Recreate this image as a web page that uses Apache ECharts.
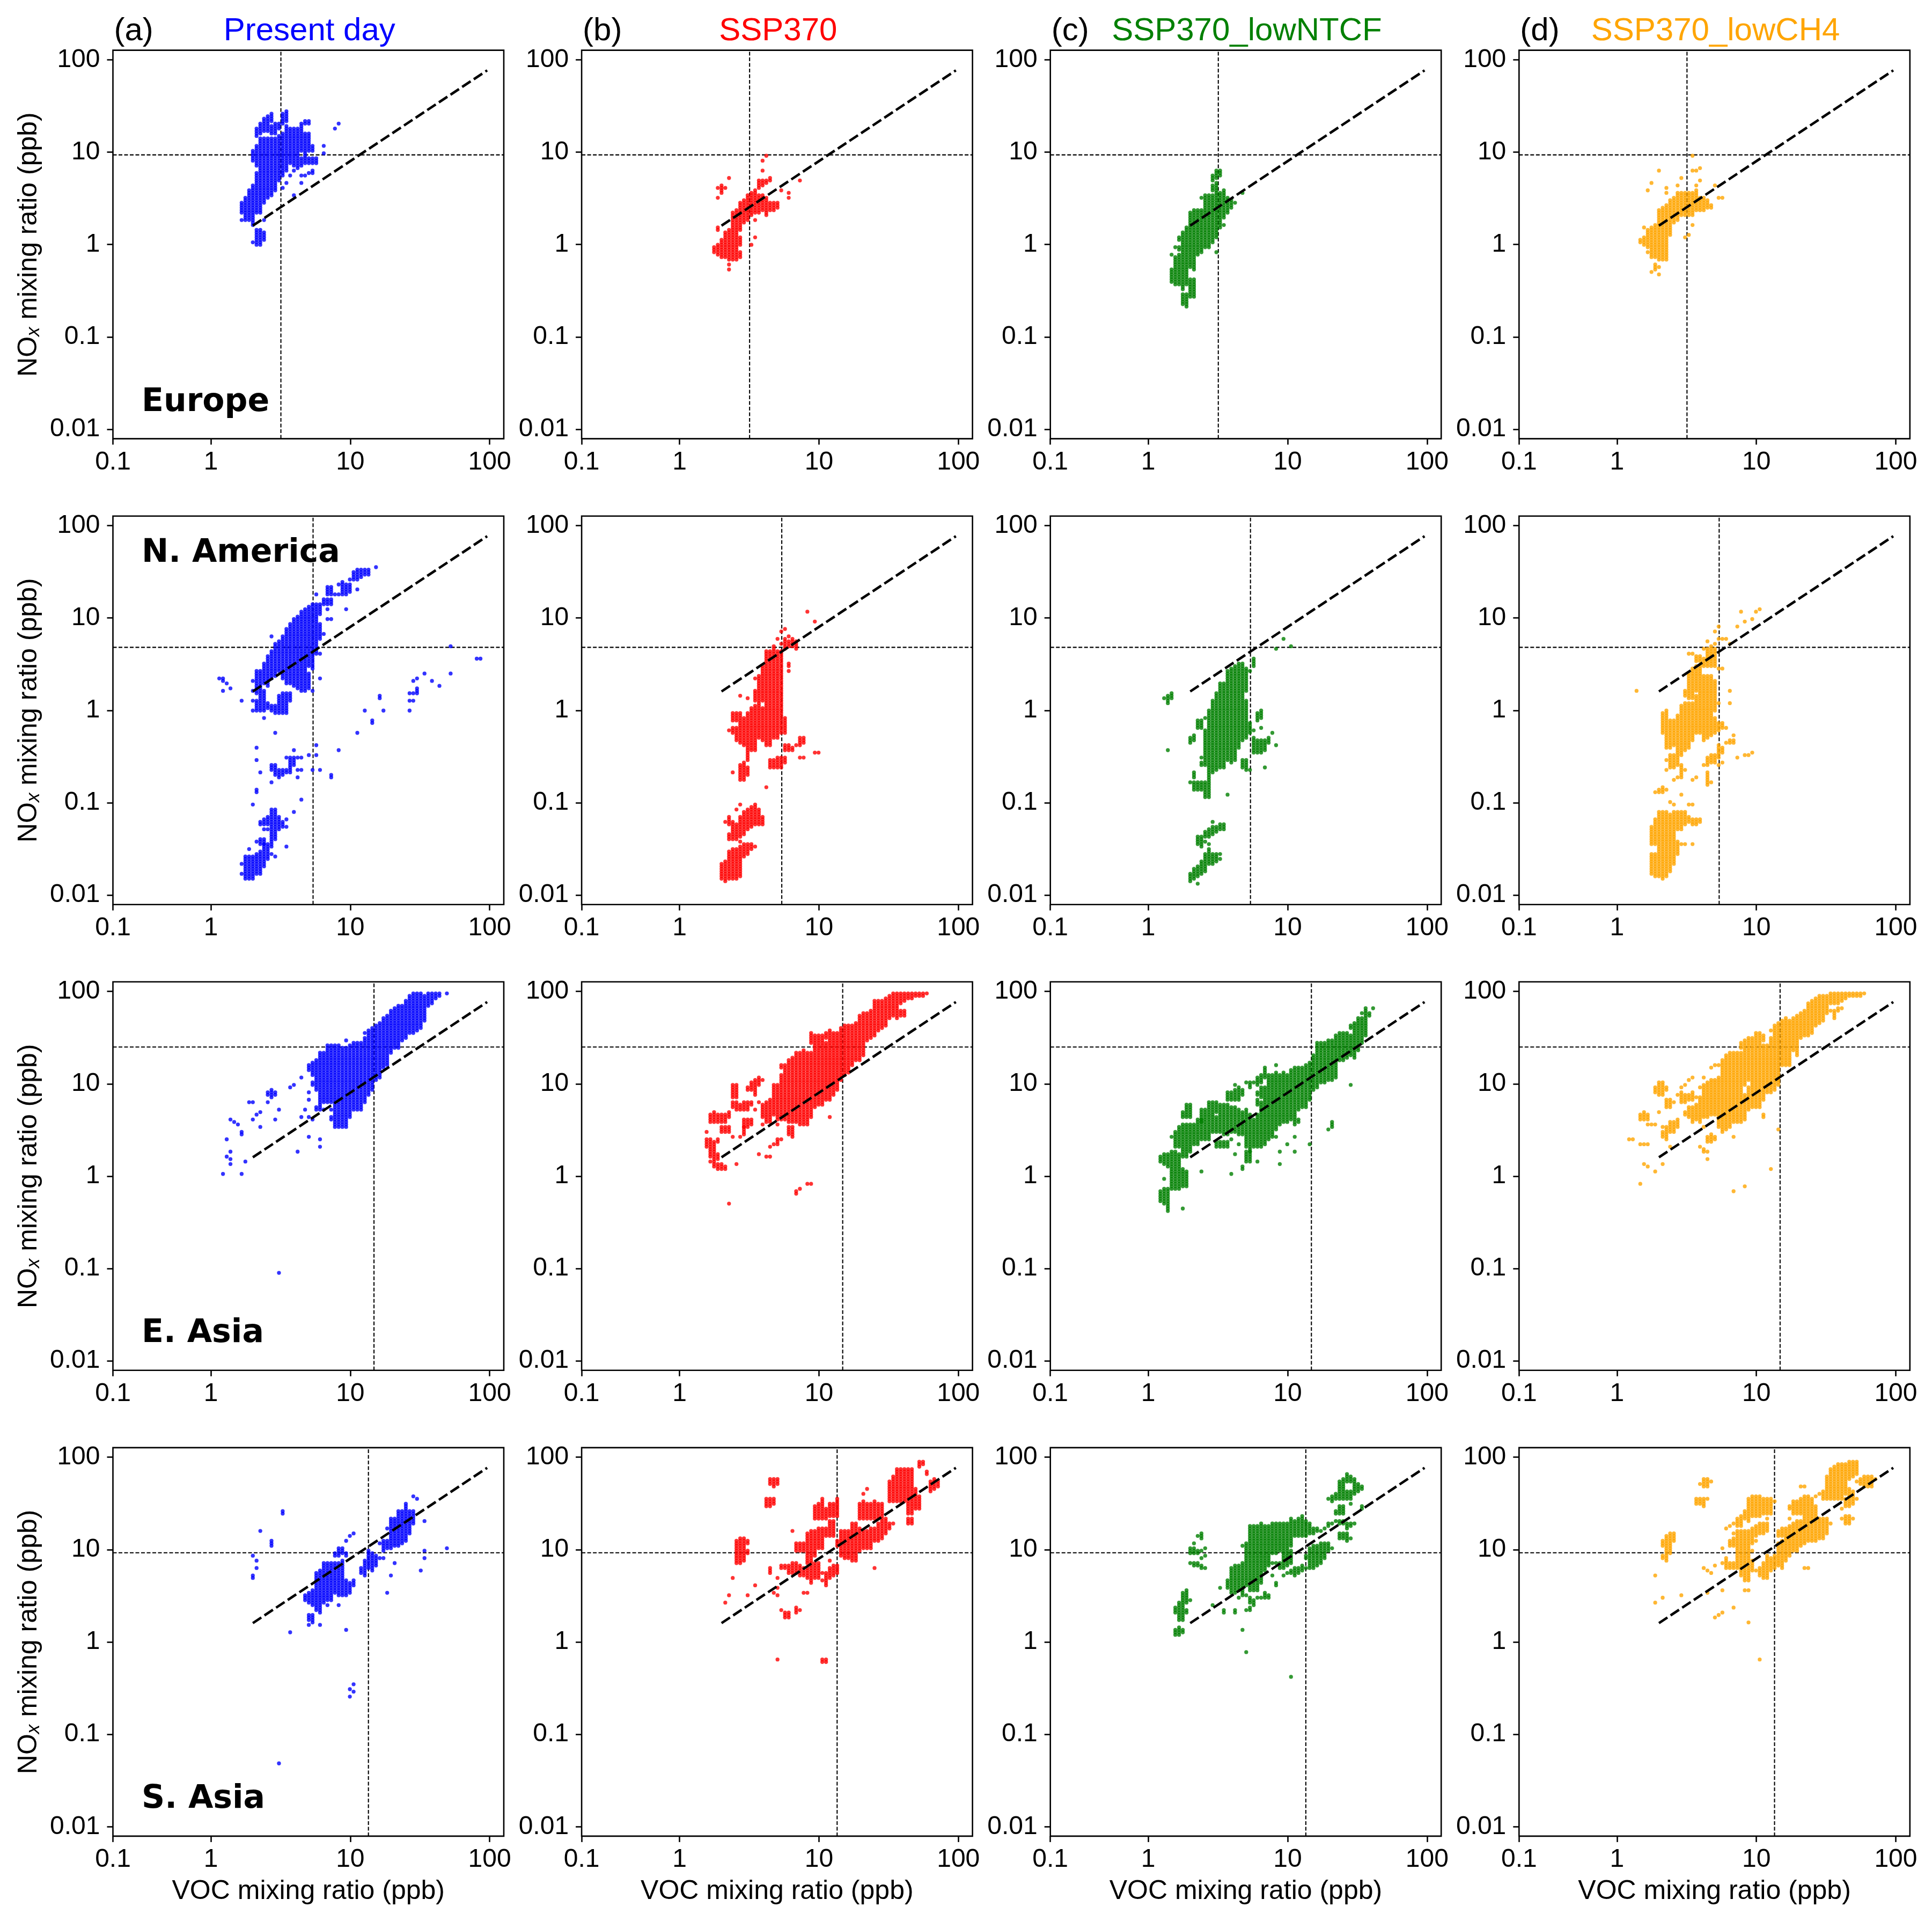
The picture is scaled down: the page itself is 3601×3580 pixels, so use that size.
<!DOCTYPE html>
<html><head><meta charset="utf-8">
<style>html,body{margin:0;padding:0;background:#fff}#c{width:3601px;height:3580px}</style>
<script src="https://cdn.jsdelivr.net/npm/echarts@6/dist/echarts.min.js"></script></head>
<body><div id="c"></div>
<script>
// Chart text
const experiments = ['Present day','SSP370','SSP370_lowNTCF','SSP370_lowCH4'];
const panelTags = ['(a)','(b)','(c)','(d)'];
const regions = ['Europe','N. America','E. Asia','S. Asia'];
const seriesColors = ['#0000ff','#ff0000','#008000','#ffa500'];
const xTicks = [0.1984,1,10,100];
const xTickLabels = ['0.1','1','10','100'];
const yTicks = [0.01,0.1,1,10,100];
const yTickLabels = ['0.01','0.1','1','10','100'];
// Threshold lines per region [VOC, NOx], ppb
const thresholds = [[3.18,9.34],[5.41,4.81],[14.8,25],[13.5,9.25]];
// Reference ratio line end points [VOC, NOx]
const ratioLine = [[2,1.6],[96,76.8]];
// The points sit on a log-spaced cell lattice. Occupied cells:
// [VOC cell, NOx cell or [first,last] NOx cell, ...]
const cellDecades = 0.02677, vocCellShift = 0.25, noxCellShift = -0.1;

const europePresent = [[8,[13,17],10],[9,[10,19]],[10,[10,22]],[11,[8,24],1,[34,38]],[12,[0,6],[13,29],[32,40],[44,47]],[13,[0,6],[13,43],[45,49]],[14,[2,5],10,[17,43],[46,51]],[15,[19,43],[46,52]],[16,[20,43],[45,48],[50,53]],[17,[22,43],[45,49]],[18,[26,44],[47,49]],[19,23,[28,45],[49,53]],[20,25,[30,48],[50,54]],[21,28,[33,47]],[22,20,30,[32,47]],[23,[31,47]],[24,25,28,[32,35],[38,49]],[25,28,[33,45],[49,50]],[26,29,[33,35],[38,45],[49,50]],[27,[29,30],[33,35],[38,40]],[28,[33,35]],[30,37,40],[33,47],[34,49]];
const europeSsp370 = [[9,[-3,-1]],[10,[-4,0],[6,7],19,23],[11,[-5,2],[21,24]],[12,[-5,5],23],[13,-10,-8,[-6,6],27],[14,[-6,13]],[15,[-6,14]],[16,[-5,-3],[0,3],[6,17]],[17,[9,18]],[18,[10,20]],[19,0,[12,21]],[20,3,10,[13,22]],[21,[13,20],[23,26]],[22,[14,20],[24,26],30,34],[23,[12,19],[25,26],36],[24,[14,17],[26,27]],[25,[14,17]],[26,[15,17]],[27,22],[29,19,21],[32,26]];
const europeLowNtcf = [[6,[-15,-10],-4],[7,[-16,-5],-1],[8,[-16,-4],[-2,-1],[2,3]],[9,[-24,-20],[-18,5]],[10,-25,[-24,-20],[-16,7]],[11,[-21,-14],[-9,13]],[12,[-21,-14],[-10,14]],[13,[-4,14]],[14,[-3,14],19],[15,[-1,20]],[16,[-1,20]],[17,[1,20],[22,24],[26,28]],[18,-3,[3,21],[22,25],[27,30]],[19,[7,21],[28,30]],[20,8,[11,17],[18,22]],[21,[13,19]],[22,[15,18]],[23,17],[25,21]];
const europeLowCh4 = [[6,[1,2]],[7,[0,3],7],[8,-3,[-1,6],22],[9,-11,[-5,7],25],[10,[-10,-8],[-5,8]],[11,-12,-9,[-6,14],30],[12,[-6,15]],[13,[-6,16],21,23],[14,[4,18]],[15,[9,19]],[16,[10,21],24],[17,[12,21],27],[18,3,[12,21]],[19,4,[12,21]],[20,8,[12,21],30,36],[21,[14,22],24,30],[22,[14,19],26,31],[23,[14,19]],[24,[15,18]],[25,[15,16]],[26,24],[27,19],[28,19]];

const namericaPresent = [[2,13],[3,8,[12,13]],[4,11],[5,9],[8,-66,-62,4],[9,[-68,-59]],[10,[-68,-59],-56],[11,[-68,-59],-38,0,4,8,12],[12,[-66,-58],-53,-33,-32,-20,-15,[0,4],[7,16]],[13,[-66,-57],[-54,-52],[-46,-45],-25,[0,16]],[14,[-63,-54],[-54,-52],-48,[-46,-44],-3,[0,8],[11,19]],[15,[-60,-54],-48,[-46,-43],[1,3],[10,22]],[16,-58,[-55,-53],[-52,-40],-29,[-24,-22],[0,2],[13,24],30],[17,-59,[-52,-40],[-26,-22],-9,[-1,2],[14,27]],[18,[-48,-43],[-27,-24],[-1,6],[16,28]],[19,[-47,-45],[-26,-24],[-1,7],[13,30]],[20,-55,-47,-44,[-25,-24],-19,[-1,7],[11,33]],[21,[-25,-24],[-23,-19],[4,7],[11,35]],[22,-41,[-22,-19],-16,[10,37]],[23,-27,-24,-19,[9,38]],[24,-36,-24,-19,[8,40]],[25,[8,41]],[26,-18,[9,15],[18,42]],[27,-24,8,[17,43]],[28,-18,-14,[23,38],[39,43],47],[29,-24,13,23,[29,35],[39,43]],[30,31,[43,45]],[31,37,41,[43,45],[47,50]],[32,[-27,-26],37,[43,45],[47,50]],[33,47],[34,-16,47,51],[35,[47,52]],[36,41,[47,51]],[37,[48,51],53],[38,[53,56]],[39,-9,49,[53,57]],[40,[54,57]],[41,0,[55,57]],[42,[55,57]],[43,-5,-4],[44,58],[45,5,6],[46,0],[53,0,4,7],[54,4,7,12],[55,[7,9],13],[57,15],[59,12],[61,10],[64,15,26],[71,21],[72,21]];
const namericaSsp370 = [[11,[-68,-62]],[12,[-69,-61],-45],[13,[-68,-57],[-52,-50],[-46,-43],-8],[14,[-68,-56],[-52,-48],[-47,-45],-25,[-9,-7],[-4,-1]],[15,[-68,-56],[-52,-46],-40,[-12,-7],[-4,-1]],[16,[-67,-55],-53,[-51,-43],-38,[-28,-22],[-13,-5],[-4,-1],6],[17,[-59,-54],[-50,-41],[-28,-21],[-14,-3]],[18,[-58,-54],[-48,-40],[-26,-23],[-20,-1],5],[19,[-56,-54],[-47,-39],[-16,1]],[20,-55,[-46,-38],[-16,2],[4,8],13],[21,[-46,-40],[-11,3],[4,14]],[22,[-46,-43],[-12,1],[4,18]],[23,-31,[-14,-12],[-11,24]],[24,[-23,-20],[-14,-12],[-11,24]],[25,[-23,-20],[-11,26]],[26,[-23,-19],[-11,24],29],[27,[-23,-19],[-9,24],27,32],[28,[-21,-19],[-16,-14],[-9,-3],[25,29],33],[29,[-16,-14],16,[18,19],[26,28],30],[30,[-16,-15],[26,29]],[31,-14,[25,28]],[32,-19,[-14,-11]],[33,-19,[-13,-11]],[34,40],[36,-17,36],[37,-17]];
const namericaLowNtcf = [[4,5],[5,-16,[3,6]],[6,[5,7]],[11,[-69,-66],-29,[-13,-11]],[12,[-68,-64],[-32,-29],[-27,-25],[-12,-10]],[13,-70,[-67,-63],[-54,-51],[-32,-29],[-7,-4]],[14,[-66,-61],[-55,-51],[-32,-29],[-22,-21],-19,[-7,-4]],[15,[-65,-58],-53,[-51,-49],[-35,-29],[-22,-8],-3],[16,[-62,-56],-54,[-51,-48],[-35,-25],[-24,0]],[17,[-62,-58],[-50,-47],-45,[-25,4]],[18,[-61,-58],[-49,-47],[-24,7]],[19,-60,-58,[-48,-46],[-23,11]],[20,[-48,-46],[-23,11]],[21,-34,[-20,16]],[22,[-21,17]],[23,[-20,18]],[24,[-15,19]],[25,[-23,-20],[-12,7],[8,19]],[26,[-24,-20],[-11,4],[8,17]],[27,-24,[-9,-5],16],[28,[-17,-11],-8,[18,21]],[29,[-17,-12],[-4,-1]],[30,[-17,-12],-7,[-3,0]],[31,-23,[-16,-12]],[32,[-13,-11]],[33,-9],[34,-14,25],[36,29],[38,26]];
const namericaLowCh4 = [[5,8],[9,[-66,-58],[-54,-47]],[10,[-67,-58],[-54,-44],-33],[11,[-67,-41],[-33,-32]],[12,[-68,-41],[-33,-31],[-9,-1]],[13,[-67,-41],-32,-24,-20,[-15,0]],[14,[-65,-42],-37,[-23,-18],[-15,-4]],[15,[-62,-41],-38,-28,[-23,-18],[-14,-4]],[16,[-58,-53],[-48,-41],-27,[-22,-2]],[17,-54,[-48,-41],-34,[-27,-22],[-18,2]],[18,-54,[-46,-41],-24,[-16,3],[6,8]],[19,[-45,-43],-38,[-15,3],[5,15],23],[20,-54,[-46,-44],-38,-28,[-12,3],[5,17],23],[21,[-46,-44],-27,[-9,6],[8,18],[20,22]],[22,[-45,-44],[-9,7],[8,18],[20,22]],[23,-22,[-12,14],[18,21],25],[24,[-30,-25],[-22,-19],[-11,14],[18,25],28],[25,-29,[-21,-18],[-10,14],[18,26]],[26,[-21,-18],[-9,-3],[0,12],[18,25],27,32],[27,-22,[-19,-14],[-8,-5],3,17,29,34],[28,-21,[-17,-15],[-7,-5],17,29],[29,-13,-7,29],[30,[-13,-12],3,8,27],[31,[-13,-12],-10],[32,-19,34],[33,40],[34,-18,36],[35,-18],[36,-17,37],[37,40],[38,41]];

const easiaPresent = [[3,1],[4,8,15],[5,5,7,10,23],[6,22],[7,21],[8,1,[17,18]],[9,6],[10,30],[11,23,30],[12,25],[13,20,26],[15,30,[33,34]],[16,[32,35]],[17,23,[33,34]],[18,-39,27],[21,36],[22,37],[23,10],[24,24,40],[25,27],[26,16,24,31,34,[43,45]],[27,23,[37,38],[41,46]],[28,[27,28],[35,47]],[29,12,15,[27,50]],[30,27,[30,50]],[31,[30,53]],[32,[23,24],27,[30,53]],[33,[20,53]],[34,[20,53]],[35,[20,52]],[36,[20,52],55],[37,[24,53]],[38,[27,54]],[39,[27,54]],[40,[27,54]],[41,[30,56],58],[42,[33,59]],[43,[35,60]],[44,[39,61]],[45,[40,62]],[46,[44,64]],[47,[45,65]],[48,[50,67]],[49,[52,68]],[50,[52,69]],[51,[55,69]],[52,[56,71]],[53,[58,73]],[54,[58,74]],[55,[59,74]],[56,[60,74]],[57,[63,73]],[58,[69,74]],[59,[70,74]],[60,[72,74]],[61,[73,74]],[63,74]];
const easiaSsp370 = [[7,[12,15],18],[8,6,[8,15],[22,25]],[9,[4,14],[22,26]],[10,[3,5],[7,9],[14,15],[22,25]],[11,[3,5],[18,20],[22,25]],[12,[3,4],[18,20],[22,25]],[13,-11,[18,20],[24,26]],[14,16,[28,30],[32,37]],[15,5,[27,30],[32,37]],[16,16,[27,29]],[17,[17,20],[20,23],[27,30]],[18,[20,23],[27,30],[35,36]],[19,[21,23],[29,30],[35,38]],[20,27,[33,39]],[21,9,30,[37,40]],[22,21,[24,29],39],[23,8,[22,30]],[24,8,12,[22,31]],[25,13,[25,37]],[26,[13,15],21,[23,37]],[27,15,[23,41],[44,45]],[28,[23,45]],[29,[17,20],[22,47]],[30,[16,20],[22,48]],[31,[-7,-6],[22,50]],[32,-5,[21,50]],[33,[21,51]],[34,-3,[21,50]],[35,-3,[24,50],[54,58]],[36,[28,57]],[37,[29,52],[53,57]],[38,[29,52],[53,57]],[39,[31,54],[56,58]],[40,24,[31,59]],[41,[33,58]],[42,[35,58]],[43,[39,60]],[44,[41,61]],[45,[42,61]],[46,[45,61]],[47,[47,62]],[48,[47,65]],[49,[49,66]],[50,[55,66]],[51,[56,67]],[52,[57,71]],[53,[59,71]],[54,[60,71]],[55,[61,72]],[56,[64,73]],[57,[65,74]],[58,[64,68],[69,74]],[59,[65,67],[70,74]],[60,[65,67],[71,74]],[61,[72,74]],[62,[72,74]],[63,[73,74]],[64,[73,74]],[65,[73,74]],[66,74]];
const easiaLowNtcf = [[3,[-10,-6],[6,8]],[4,[-11,-5],-1,[5,9]],[5,[-14,-5],[4,9]],[6,[-5,10],16],[7,[-5,10],[12,18]],[8,[-5,9],[12,20]],[9,-13,[-4,3],[8,21],[24,26]],[10,[-4,2],[8,21],[24,29]],[11,[10,21],[24,29]],[12,[13,21]],[13,[13,23]],[14,2,[15,23],[22,27]],[15,[15,27]],[16,[15,30]],[17,[18,30]],[18,[12,14],[18,24],[26,30]],[19,[12,14],[18,29]],[20,[12,14],[17,29]],[21,[12,14],[17,29],[31,34]],[22,1,15,[18,28],[31,34]],[23,9,[18,28],[31,35],37],[24,13,[17,27],[31,36]],[25,[3,4],[17,26],[33,35]],[26,[6,10],[12,27],38],[27,[6,10],[10,25],[36,38]],[28,[12,23],38],[29,6,[12,25],[29,31],[33,34],[37,40]],[30,[12,30],[32,36],[38,41]],[31,[13,36],[40,44]],[32,[15,41]],[33,[16,41]],[34,16,[19,42],45],[35,5,10,[21,41]],[36,[22,42]],[37,13,[22,41]],[38,[23,43]],[39,10,16,[21,44]],[40,[22,23],[27,44]],[41,[28,44]],[42,[28,45]],[43,13,[31,46]],[44,[35,49]],[45,[36,54]],[46,[38,54]],[47,[38,54]],[48,19,[39,55]],[49,[20,22],[39,55]],[50,[40,57]],[51,[47,58]],[52,[47,58]],[53,[48,58]],[54,37,[49,57],[60,61]],[55,[48,62]],[56,[51,64]],[57,[54,64],66],[58,[57,68]],[59,[65,66]],[60,68]];
const easiaLowCh4 = [[3,15],[4,15],[6,-3,13,[23,25]],[7,5,13,[23,26]],[8,4,13,21,[23,25]],[9,21],[10,2,21,[34,36]],[11,26,[33,38]],[12,5,[16,18],20,[33,38]],[13,[15,20],[28,31],[35,36]],[14,12,[18,22],[28,31]],[15,[18,22],30],[16,[20,23],33],[17,[30,34],36],[18,[25,26],[30,33],37],[19,[24,28],[31,33],39],[20,22,[23,28],[31,34],40],[21,[23,29],32],[22,12,[22,32],36],[23,[10,11],20,[24,33],[34,37],40],[24,7,10,[14,16],[24,38]],[25,[14,17],[25,39],44],[26,[15,16],[25,39],45],[27,[20,40],45],[28,[18,47]],[29,[19,49]],[30,[20,50]],[31,-6,16,[22,50]],[32,[22,50]],[33,[22,50],[52,54]],[34,-4,[23,33],[37,55]],[35,[27,36],[39,56]],[36,[28,56]],[37,[28,58]],[38,[28,58]],[39,[24,25],[31,53],[55,57]],[40,[34,53]],[41,3,[34,56],59],[42,[35,61]],[43,19,[37,62]],[44,[45,63]],[45,[45,64]],[46,[45,63]],[47,[51,64]],[48,[49,65]],[49,[56,66]],[50,[57,67]],[51,[57,70]],[52,[58,71]],[53,[61,72]],[54,[62,73]],[55,[63,73]],[56,[66,73]],[57,67,[70,74]],[58,[64,67],[70,74]],[59,[67,68],[70,74]],[60,68,[71,74]],[61,[72,74]],[62,[73,74]],[63,[73,74]],[64,[73,74]],[65,[73,74]],[66,74]];

const sasiaPresent = [[11,[26,27],35],[12,30,33],[13,45],[16,[39,41]],[18,-49],[19,[52,53]],[21,4],[25,[17,19]],[26,7,[9,11],[16,20]],[27,[8,11],[15,21]],[28,[13,28]],[29,7,[12,29]],[30,[16,32]],[31,15,[17,32]],[32,[17,32]],[33,[20,32],[35,36]],[34,15,[19,32],[35,38]],[35,[19,33],[36,38]],[36,5,[19,25],[35,36],41],[37,-22,-19,[20,24],43],[38,-20,-17,[23,25],44],[40,[28,30]],[41,[27,33]],[42,[30,37]],[43,[29,36]],[44,[31,35]],[45,34,40],[46,34,[37,41]],[47,20,[38,41],46],[48,27,[38,50]],[49,32,[39,50]],[50,[39,53]],[51,[40,53]],[52,[41,56]],[53,[44,53]],[54,[48,53],59],[55,58],[56,29],[57,34,37,49],[63,38]];
const sasiaSsp370 = [[12,16],[13,19],[14,26],[15,[32,41]],[16,[32,42]],[17,[33,42]],[18,19,[36,37],[40,41]],[20,23],[23,[55,58]],[24,[28,30],[55,58],[64,66]],[25,20,[56,58],[63,66]],[26,-7,19,22,26,[64,66]],[27,13,[30,31]],[28,[10,12],[30,31]],[29,[10,12],[28,31]],[30,[28,32],45],[31,[12,14],[28,32],[37,40]],[32,13,[27,31],[37,40]],[33,20,[27,30],[37,40]],[34,20,[26,30],[32,44]],[35,24,[25,45]],[36,[26,32],[35,45],[50,55]],[37,[26,32],[38,46],[50,56]],[38,[-8,-7],25,28,[38,41],[42,46],[50,58]],[39,[-8,-7],[23,28],[43,46],[50,54]],[40,[26,30],33,[43,49],[51,56]],[41,[27,31],[43,49],[51,56]],[42,[28,31],[39,41],[51,58]],[43,[35,45]],[44,[34,45]],[45,[34,45]],[46,[33,48]],[47,[33,48]],[48,[37,46],[50,56]],[49,[38,45],[50,57],60],[50,[38,45],[50,56],62],[51,[38,46],[50,56]],[52,30,[41,46],[50,57]],[53,[41,48],[50,56]],[54,[42,56]],[55,[44,50]],[56,[46,48],[57,65]],[57,48,[57,67]],[58,[57,70]],[59,[57,70]],[60,[57,70]],[61,[48,50],[52,70]],[62,[48,50],[52,70]],[63,[54,62]],[64,[54,59],[71,73]],[65,[72,73]],[66,[68,69]],[67,[61,65]],[68,[62,66]],[69,[63,65]]];
const sasiaLowNtcf = [[7,[3,5],[12,14]],[8,[3,6],[9,16]],[9,[4,5],9,[10,20]],[10,[12,13],[16,21]],[11,17,32,[36,38]],[12,[31,32],[36,38],40],[13,[31,32],[36,37],43],[14,[30,31],34,37,[42,44]],[15,30,35,38],[17,15],[19,22],[20,[12,13]],[21,[22,25]],[22,[20,30]],[23,[12,13],[20,31]],[24,18,[21,31]],[25,5,[19,20],[21,32],39],[26,-4,13,19,[23,40]],[27,[13,14],[16,18],[21,47]],[28,[15,17],[21,47]],[29,18,[21,47]],[30,18,[24,48]],[31,[18,20],[29,47]],[32,[18,19],[31,47]],[33,27,32,[36,48]],[34,[23,24],32,[36,48]],[35,[30,32],[37,48]],[36,27,[30,48]],[37,28,[31,48]],[38,-14,[28,29],[32,37],[39,50]],[39,[27,30],[43,49]],[40,[28,30],[43,50]],[41,[29,31],[43,51]],[42,30,[34,35],[43,49]],[43,[30,38],[44,48]],[44,[30,39],[44,46]],[45,[31,39],[45,46]],[46,[32,40],45],[47,[34,40],46],[48,[37,40],[47,48],58],[49,38,48,[57,59]],[50,49,[52,53],[58,60]],[51,[42,44],[48,49],[52,55],[58,65]],[52,[42,44],[48,49],[52,55],[58,66]],[53,[41,44],[46,48],[58,61],[65,68]],[54,42,[47,48],56,[58,61],[65,67]],[55,48,[60,66]],[56,[61,64]],[57,[54,55],[62,63]]];
const sasiaLowCh4 = [[10,16,27],[12,18,[34,35],[39,41]],[13,[33,43]],[14,[36,44]],[15,[41,44]],[17,19],[21,[56,58]],[22,[56,58],64],[23,30,[55,58],[63,66]],[24,20,29,58,[63,66]],[25,28,65],[26,10,31],[27,11],[28,12,21,32,38],[29,[30,34],46],[30,[30,32],[39,41],47],[31,14,[30,32],[39,42],44,48],[32,[30,45],[47,50]],[33,[27,45],[47,51]],[34,21,[25,45],[50,53]],[35,8,21,[25,45],[49,58]],[36,[29,33],37,[40,46],[51,59]],[37,29,41,[43,47],[51,59]],[38,-7,[27,30],[44,48],[51,59]],[39,[26,32],[44,48],[52,58]],[40,[26,35],[45,48],50,[52,58]],[41,[29,34],[52,58]],[42,[30,35],57],[43,[31,40],[43,45]],[44,[30,41],[43,46]],[45,[33,46]],[46,[35,47],50,[54,55]],[47,[37,48],[52,57]],[48,[37,49],[52,57]],[49,[39,49],[52,58],63],[50,30,[40,50],[51,59],63],[51,30,[41,50],[51,59]],[52,[41,58]],[53,[41,55],59],[54,[42,50],60],[55,[42,50],[58,61]],[56,[44,50],[58,67]],[57,48,[58,70]],[58,[58,71]],[59,[58,72]],[60,50,54,[58,72]],[61,[48,51],[55,58],[60,72]],[62,[48,51],[55,62],[66,73]],[63,50,[56,61],[67,73]],[64,58,65,[68,73]],[65,[64,66]],[66,[63,67]],[67,[63,67]],[68,[63,67]],[69,66]];

const regionPanels = [
  [europePresent, europeSsp370, europeLowNtcf, europeLowCh4],
  [namericaPresent, namericaSsp370, namericaLowNtcf, namericaLowCh4],
  [easiaPresent, easiaSsp370, easiaLowNtcf, easiaLowCh4],
  [sasiaPresent, sasiaSsp370, sasiaLowNtcf, sasiaLowCh4]
];

const vocOf = i => Math.pow(10,(i+vocCellShift)*cellDecades);
const noxOf = j => Math.pow(10,(j+noxCellShift)*cellDecades);
function cellsToPoints(cols){
  const out=[];
  for(const col of cols){
    const x=vocOf(col[0]);
    for(let k=1;k<col.length;k++){
      const e=col[k];
      if(Array.isArray(e)){for(let j=e[0];j<=e[1];j++)out.push([x,noxOf(j)]);}
      else out.push([x,noxOf(e)]);
    }
  }
  return out;
}

const LEFT0=210.5, TOP0=93.6, W=728.5, H=724, DX=873.6, DY=868.1;
const F='"Liberation Sans",Arial,Helvetica,sans-serif';
const TICK=48, LAB=50, TITLE=60;
const grid=[],xAxis=[],yAxis=[],series=[],graphic=[];
regionPanels.forEach((row,r)=>{
  row.forEach((cols,c)=>{
    const gi=grid.length;
    const left=LEFT0+c*DX, top=TOP0+r*DY;
    grid.push({left,top,width:W,height:H,show:true,borderColor:'#000',borderWidth:2.6,backgroundColor:'#fff',containLabel:false});
    xAxis.push({type:'log',gridIndex:gi,min:0.1984,max:126.3,logBase:10,position:'bottom',
      splitLine:{show:false},minorTick:{show:false},minorSplitLine:{show:false},axisLine:{show:false,onZero:false},
      axisTick:{show:true,length:11,inside:false,lineStyle:{color:'#000',width:2.6},customValues:xTicks},
      axisLabel:{show:true,margin:20,fontFamily:F,fontSize:TICK,color:'#000',customValues:xTicks,showMinLabel:true,showMaxLabel:true,hideOverlap:false,
        formatter:v=>xTickLabels[xTicks.findIndex(t=>Math.abs(Math.log10(t)-Math.log10(v))<1e-3)]||''},
      name:r===3?'VOC mixing ratio (ppb)':'',nameLocation:'middle',nameGap:78,
      nameTextStyle:{fontFamily:F,fontSize:LAB,color:'#000'}});
    yAxis.push({type:'log',gridIndex:gi,min:0.0079,max:126.9,logBase:10,position:'left',
      splitLine:{show:false},minorTick:{show:false},minorSplitLine:{show:false},axisLine:{show:false,onZero:false},
      axisTick:{show:true,length:11,inside:false,lineStyle:{color:'#000',width:2.6},customValues:yTicks},
      axisLabel:{show:true,margin:24,padding:[6,0,0,0],fontFamily:F,fontSize:TICK,color:'#000',customValues:yTicks,showMinLabel:true,showMaxLabel:true,hideOverlap:false,
        formatter:v=>yTickLabels[yTicks.findIndex(t=>Math.abs(Math.log10(t)-Math.log10(v))<1e-3)]||''},
      name:c===0?'NO{s|x} mixing ratio (ppb)':'',nameLocation:'middle',nameGap:130,nameRotate:90,
      nameTextStyle:{fontFamily:F,fontSize:LAB,color:'#000',rich:{s:{fontFamily:F,fontSize:35,fontStyle:'italic',color:'#000',padding:[18,0,0,0]}}}});
    const th=thresholds[r];
    const thin={color:'#000',width:2.1,type:[7,3.5]};
    series.push({type:'line',xAxisIndex:gi,yAxisIndex:gi,z:1,symbol:'none',silent:true,animation:false,lineStyle:thin,data:[[th[0],0.0079],[th[0],126.9]]});
    series.push({type:'line',xAxisIndex:gi,yAxisIndex:gi,z:1,symbol:'none',silent:true,animation:false,lineStyle:thin,data:[[0.1984,th[1]],[126.3,th[1]]]});
    series.push({type:'scatter',xAxisIndex:gi,yAxisIndex:gi,z:2,symbol:'circle',symbolSize:7.3,silent:true,animation:false,large:false,
      itemStyle:{color:seriesColors[c]},data:cellsToPoints(cols)});
    series.push({type:'line',xAxisIndex:gi,yAxisIndex:gi,z:3,symbol:'none',silent:true,animation:false,
      lineStyle:{color:'#000',width:4.7,type:[19,7]},data:ratioLine});
  });
});
experiments.forEach((name,c)=>{
  const left=LEFT0+c*DX;
  graphic.push({type:'text',x:left+2,y:58,z:10,style:{text:panelTags[c],fontFamily:F,fontSize:TITLE,fill:'#000',textAlign:'left',textVerticalAlign:'middle'}});
  graphic.push({type:'text',x:left+W/2+2,y:58,z:10,style:{text:name,fontFamily:F,fontSize:TITLE,fill:seriesColors[c],textAlign:'center',textVerticalAlign:'middle'}});
});
const regionY=[657,70,656,656];
regions.forEach((name,r)=>{
  graphic.push({type:'text',x:264,y:TOP0+r*DY+regionY[r],z:10,style:{text:name,fontFamily:'"DejaVu Sans",sans-serif',fontWeight:'bold',fontSize:60,fill:'#000',textAlign:'left',textVerticalAlign:'middle'}});
});
const chart=echarts.init(document.getElementById('c'),null,{renderer:'canvas'});
chart.setOption({backgroundColor:'#fff',animation:false,grid,xAxis,yAxis,series,graphic});
</script></body></html>
